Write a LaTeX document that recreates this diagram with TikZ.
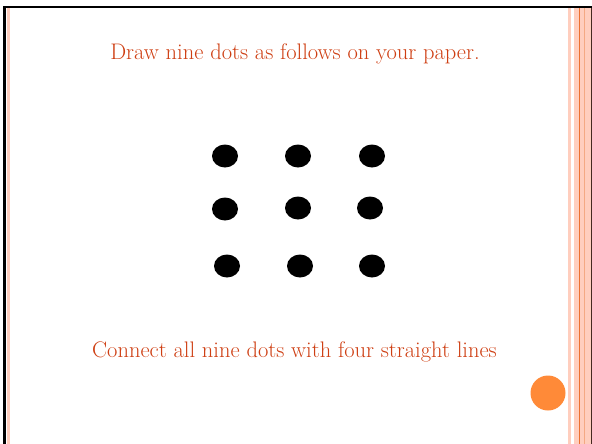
\documentclass[tikz,border=0pt]{standalone}
\usepackage[dvipsnames]{xcolor}
\definecolor{slidetext}{RGB}{206,62,18}
\definecolor{slidepink}{RGB}{255,206,190}
\definecolor{slideorange}{RGB}{255,138,56}
\definecolor{slideline}{RGB}{236,112,48}
\definecolor{slidedark}{RGB}{70,40,32}
\usepackage{tikz}
\usetikzlibrary{shapes.geometric,positioning}

\begin{document}
\begin{tikzpicture}[x=1pt,y=-1pt,
  dot/.style={ellipse, fill=black, minimum width=26pt, minimum height=23pt, inner sep=0pt},
  caption/.style={text=slidetext, font=\fontsize{22.5}{26}\selectfont}]
  \useasboundingbox (0,0) rectangle (592,444);
  % frame of the slide
  \fill[black] (3,6) rectangle (592,8.5);
  \fill[black] (3,6) rectangle (6,444);
  \fill[slidepink] (7,8.5) rectangle (10,444);
  \fill[slidepink] (568,8.5) rectangle (571,444);
  \fill[slidepink] (574,8.5) rectangle (591,444);
  \fill[slideline] (579,8.5) rectangle (580.3,444);
  \fill[slideline!60] (583.5,8.5) rectangle (584.3,444);
  \fill[slidedark] (590.5,8.5) rectangle (592,444);
  % texts
  \node[caption] (top) at (295,54) {Draw nine dots as follows on your paper.};
  \node[caption] (bottom) at (294.5,352) {Connect all nine dots with four straight lines};
  % the nine dots
  \foreach \i/\x/\y in {1/225/156, 2/298/156, 3/372/156,
                        4/225/209, 5/298/208, 6/370/208,
                        7/227/266, 8/300/266, 9/372/266}{
    \node[dot] (d\i) at (\x,\y) {};
  }
  \node[circle, fill=slideorange, minimum size=35pt, inner sep=0pt] (ball) at (548,393) {};
\end{tikzpicture}
\end{document}
